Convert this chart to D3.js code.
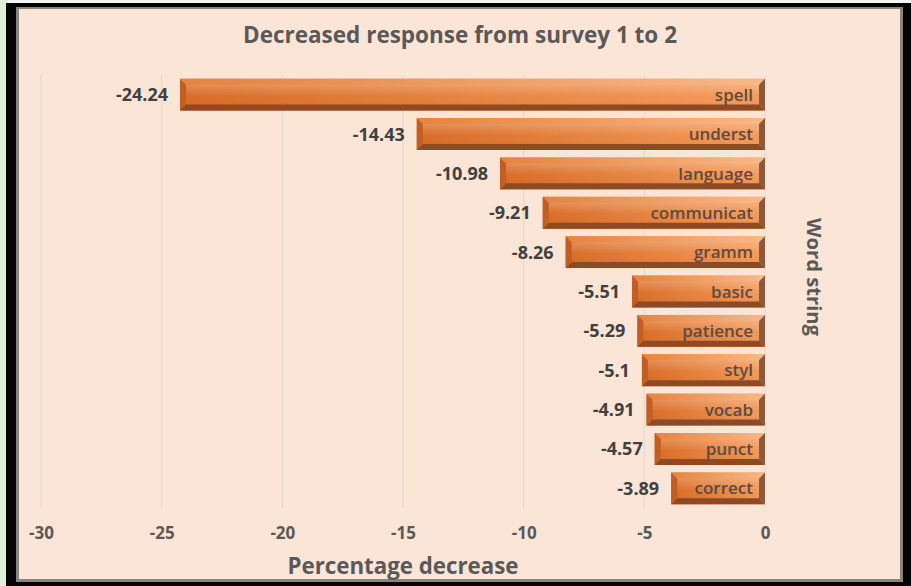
<!DOCTYPE html>
<html><head><meta charset="utf-8">
<script src="https://cdn.jsdelivr.net/npm/d3@7"></script>
<style>body{margin:0;background:#fff}svg{display:block}</style>
</head><body>
<svg id="c" width="911" height="586"></svg>
<script>
const categories = ["spell","underst","language","communicat","gramm","basic","patience","styl","vocab","punct","correct"];
const values = [-24.24,-14.43,-10.98,-9.21,-8.26,-5.51,-5.29,-5.1,-4.91,-4.57,-3.89];
const tickValues = [-30,-25,-20,-15,-10,-5,0];
const title = "Decreased response from survey 1 to 2";
const xTitle = "Percentage decrease";
const yTitle = "Word string";

const svg = d3.select("#c");
const W = 911, H = 586;
const font = "'Open Sans', Lato, sans-serif";
const narrow = "'Liberation Sans Narrow', 'Open Sans', sans-serif";

// outer screenshot frame
svg.append("rect").attr("width",W).attr("height",H).attr("fill","#f4f4f4");
svg.append("rect").attr("x",0).attr("y",0).attr("width",8).attr("height",H).attr("fill","#e0efda");
svg.append("rect").attr("x",6).attr("y",3).attr("width",W-6).attr("height",H-3).attr("fill","#050505");
svg.append("rect").attr("x",16).attr("y",7).attr("width",887).attr("height",575).attr("fill","#8a8480");
svg.append("rect").attr("x",19).attr("y",9).attr("width",881).attr("height",570).attr("fill","#fbe5d7");

const defs = svg.append("defs");
const gFace = defs.append("linearGradient").attr("id","face").attr("x1",0).attr("y1",0).attr("x2",1).attr("y2",0);
gFace.append("stop").attr("offset","0%").attr("stop-color","#d86a24");
gFace.append("stop").attr("offset","100%").attr("stop-color","#f59a58");
const gHi = defs.append("linearGradient").attr("id","hi").attr("x1",0).attr("y1",0).attr("x2",0).attr("y2",1);
gHi.append("stop").attr("offset","0%").attr("stop-color","#fff").attr("stop-opacity",0.35);
gHi.append("stop").attr("offset","25%").attr("stop-color","#fff").attr("stop-opacity",0.2);
gHi.append("stop").attr("offset","55%").attr("stop-color","#fff").attr("stop-opacity",0.02);
gHi.append("stop").attr("offset","100%").attr("stop-color","#000").attr("stop-opacity",0.06);
const gTop = defs.append("linearGradient").attr("id","topb").attr("x1",0).attr("y1",0).attr("x2",1).attr("y2",0);
gTop.append("stop").attr("offset","0%").attr("stop-color","#e5843f");
gTop.append("stop").attr("offset","100%").attr("stop-color","#f8b888");

const x = d3.scaleLinear().domain([-30,0]).range([41,765]);
const y = d3.scaleBand().domain(categories).range([75,508]).paddingInner(0.19).paddingOuter(0.095);

// gridlines
svg.append("g").selectAll("line").data(tickValues).join("line")
  .attr("x1",d=>x(d)).attr("x2",d=>x(d)).attr("y1",75).attr("y2",508)
  .attr("stroke","#e3d6cd").attr("stroke-width",1);

// x axis
const ax = svg.append("g").attr("transform","translate(0,524)")
  .call(d3.axisBottom(x).tickValues(tickValues).tickSize(0).tickFormat(d=>String(d)));
ax.select(".domain").remove();
ax.selectAll("text").attr("font-family",narrow).attr("font-size",17).attr("font-weight","bold").attr("fill","#595959").attr("dy","0.71em");

// bars
const data = categories.map((c,i)=>({c,v:values[i]}));
const bars = svg.append("g").selectAll("g").data(data).join("g");
const bw = 6;
bars.each(function(d){
  const g = d3.select(this);
  const x0 = x(d.v), x1 = x(0), y0 = y(d.c), h = y.bandwidth(), y1 = y0+h;
  g.append("rect").attr("x",x0).attr("y",y0).attr("width",x1-x0).attr("height",h).attr("fill","url(#face)");
  g.append("rect").attr("x",x0).attr("y",y0).attr("width",x1-x0).attr("height",h).attr("fill","url(#hi)");
  const poly = pts => g.append("polygon").attr("points",pts.map(p=>p.join(",")).join(" "));
  poly([[x0,y0],[x1,y0],[x1-bw,y0+bw],[x0+bw,y0+bw]]).attr("fill","url(#topb)");
  poly([[x0,y1],[x1,y1],[x1-bw,y1-bw],[x0+bw,y1-bw]]).attr("fill","#8c4b26");
  poly([[x0,y0],[x0+bw,y0+bw],[x0+bw,y1-bw],[x0,y1]]).attr("fill","#c35d22");
  poly([[x1,y0],[x1-bw,y0+bw],[x1-bw,y1-bw],[x1,y1]]).attr("fill","#8a5a3e");
});
bars.append("text").attr("x",x(0)-12).attr("y",d=>y(d.c)+y.bandwidth()/2)
  .attr("dy","0.36em").attr("text-anchor","end").attr("font-family",font).attr("font-size",17)
  .attr("font-weight","600").attr("fill","#5b4b42").text(d=>d.c);
bars.append("text").attr("x",d=>x(d.v)-12).attr("y",d=>y(d.c)+y.bandwidth()/2)
  .attr("dy","0.36em").attr("text-anchor","end").attr("font-family",font).attr("font-size",18)
  .attr("font-weight","bold").attr("fill","#404040").text(d=>d.v);

// titles
svg.append("text").attr("x",460).attr("y",43).attr("text-anchor","middle").attr("font-family",font)
  .attr("font-size",22.5).attr("font-weight","bold").attr("fill","#595959").text(title);
svg.append("text").attr("x",403).attr("y",574).attr("text-anchor","middle").attr("font-family",font)
  .attr("font-size",22.3).attr("font-weight","bold").attr("fill","#595959").text(xTitle);
svg.append("text").attr("transform","translate(807,277) rotate(90)").attr("text-anchor","middle").attr("font-family",font)
  .attr("font-size",20.2).attr("font-weight","bold").attr("fill","#595959").text(yTitle);
</script>
</body></html>
